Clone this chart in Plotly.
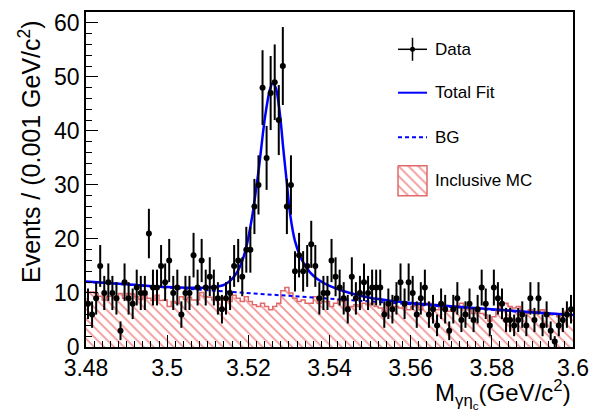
import numpy as np
import plotly.graph_objects as go

# ---------------- data ----------------
bin_low = 3.48
bin_width = 0.001

data_counts = [
    8, 6, 9, 15, 10, 12, 10, 9, 3, 12,
    9, 8, 11, 10, 10, 21, 11, 11, 15, 12,
    16, 10, 11, 6, 10, 10, 17, 11, 16, 11,
    13, 11, 9, 7, 9, 10, 15, 16, 13, 18,
    18, 26, 30, 48, 35, 47, 49, 42, 52, 26,
    30, 14, 17, 14, 15, 19, 15, 9, 10, 10,
    16, 13, 11, 9, 7, 13, 9, 10, 12, 10,
    11, 11, 11, 6, 8, 7, 9, 12, 8, 12,
    10, 6, 9, 11, 6, 7, 4, 8, 7, 3,
    7, 9, 5, 6, 8, 5, 7, 11, 8, 4,
    11, 9, 8, 5, 5, 4, 5, 6, 4, 9,
    5, 9, 4, 6, 3, 1, 4, 5, 6, 7,
]

mc_counts = [
    10.2, 10.2, 9.9, 9.4, 8.7, 9.4, 9.4, 8.7, 9.9, 9.0,
    9.9, 9.8, 9.3, 8.8, 9.8, 9.0, 8.6, 9.6, 8.6, 8.7,
    7.5, 8.4, 8.1, 9.3, 8.8, 9.2, 8.7, 8.7, 10.1, 9.3,
    9.2, 8.7, 9.3, 8.7, 9.0, 8.4, 9.6, 9.0, 8.4, 9.3,
    8.4, 7.8, 7.5, 8.1, 7.5, 6.9, 7.5, 8.1, 10.4, 11.0,
    10.0, 9.0, 8.4, 8.7, 8.1, 8.1, 9.3, 8.1, 8.4, 8.4,
    7.5, 8.1, 8.7, 8.4, 7.5, 7.5, 7.8, 7.5, 8.1, 7.8,
    8.1, 7.5, 7.2, 6.6, 7.8, 6.9, 7.5, 7.2, 7.5, 6.9,
    7.5, 8.1, 6.9, 7.8, 8.1, 7.5, 6.9, 7.8, 7.2, 6.6,
    6.9, 7.5, 8.1, 7.5, 6.9, 6.2, 6.6, 6.2, 5.9, 4.8,
    5.6, 6.6, 7.8, 8.1, 7.5, 7.2, 7.5, 6.6, 6.2, 6.9,
    6.2, 6.6, 6.9, 6.2, 5.9, 6.2, 5.6, 6.2, 6.6, 6.6,
]

fit_mass = [
    3.480, 3.490, 3.500, 3.506, 3.510, 3.5125, 3.5143, 3.5160, 3.5175,
    3.5192, 3.5208, 3.5225, 3.5241, 3.5253, 3.5260, 3.5268, 3.5278,
    3.5286, 3.5295, 3.5303, 3.5315, 3.5332, 3.5352, 3.5370, 3.540,
    3.545, 3.550, 3.555, 3.560, 3.570, 3.580, 3.590, 3.600,
]
fit_total = [
    12.1, 11.6, 11.1, 10.95, 11.0, 11.2, 11.6, 12.6, 14.2,
    17.6, 23.5, 32.5, 42.5, 47.6, 48.8, 47.9, 43.0,
    36.8, 30.3, 24.6, 19.6, 16.1, 13.8, 12.6, 11.3,
    10.0, 9.1, 8.55, 8.15, 7.55, 7.0, 6.45, 5.9,
]

bg_mass = [3.48, 3.52, 3.56, 3.60]
bg_level = [12.05, 9.95, 7.9, 5.85]

x_tick_values = [3.48, 3.50, 3.52, 3.54, 3.56, 3.58, 3.60]
x_tick_labels = ["3.48", "3.5", "3.52", "3.54", "3.56", "3.58", "3.6"]
y_tick_values = [0, 10, 20, 30, 40, 50, 60]

legend_labels = ["Data", "Total Fit", "BG", "Inclusive MC"]

# ---------------- derived arrays ----------------
n_bins = len(data_counts)
centers = bin_low + bin_width * (np.arange(n_bins) + 0.5)
errors = np.sqrt(np.array(data_counts, dtype=float))
edges = bin_low + bin_width * np.arange(n_bins + 1)
mc_step = list(mc_counts) + [mc_counts[-1]]

FONT = "Liberation Sans, Arial, Helvetica, sans-serif"
RED = "#e62a2a"
RED_LINE = "#e06a6a"
BLUE = "#0000ff"

fig = go.Figure()

# Inclusive MC hatched histogram
fig.add_trace(go.Scatter(
    x=edges, y=mc_step, mode="lines", line=dict(shape="hv", color=RED_LINE, width=1.5),
    fill="tozeroy", fillcolor="white",
    fillpattern=dict(shape="\\", fgcolor=RED, bgcolor="white", size=7, solidity=0.25),
    showlegend=False, hoverinfo="skip",
))

# Background
fig.add_trace(go.Scatter(
    x=bg_mass, y=bg_level, mode="lines",
    line=dict(color=BLUE, width=2, dash="4px,3px"), showlegend=False,
))

# Total fit
fig.add_trace(go.Scatter(
    x=fit_mass, y=fit_total, mode="lines",
    line=dict(color=BLUE, width=2.5, shape="spline", smoothing=0.8), showlegend=False,
))

# Data
fig.add_trace(go.Scatter(
    x=centers, y=data_counts, mode="markers",
    marker=dict(color="black", size=6),
    error_y=dict(type="data", array=errors, color="black", thickness=2, width=0),
    showlegend=False,
))

# ---------------- hand-drawn legend on an overlay pixel axis ----------------
LX0, LX1, LXC = 398, 427, 412.5
rows_y = [49.3, 92.7, 137.3, 180.7]

fig.add_trace(go.Scatter(
    x=[LXC], y=[rows_y[0]], mode="markers", xaxis="x2", yaxis="y2",
    marker=dict(color="black", size=5),
    error_x=dict(type="constant", value=14.5, color="black", thickness=1.5, width=0),
    error_y=dict(type="constant", value=11.5, color="black", thickness=1.5, width=0),
    showlegend=False, hoverinfo="skip",
))
fig.add_trace(go.Scatter(
    x=[LX0, LX1], y=[rows_y[1], rows_y[1]], mode="lines", xaxis="x2", yaxis="y2",
    line=dict(color=BLUE, width=2), showlegend=False, hoverinfo="skip",
))
fig.add_trace(go.Scatter(
    x=[LX0, LX1], y=[rows_y[2], rows_y[2]], mode="lines", xaxis="x2", yaxis="y2",
    line=dict(color=BLUE, width=2, dash="4px,3px"), showlegend=False, hoverinfo="skip",
))
fig.add_trace(go.Scatter(
    x=[LX0, LX1, LX1, LX0, LX0], y=[165.7, 165.7, 195.7, 195.7, 165.7],
    mode="lines", xaxis="x2", yaxis="y2", fill="toself", fillcolor="white",
    fillpattern=dict(shape="\\", fgcolor=RED, bgcolor="white", size=7, solidity=0.25),
    line=dict(color=RED_LINE, width=1.5), showlegend=False, hoverinfo="skip",
))

annotations = []
for label, yy in zip(legend_labels, rows_y):
    annotations.append(dict(
        x=433, y=yy, xref="x2", yref="y2", text=label, showarrow=False,
        xanchor="left", yanchor="middle", font=dict(family=FONT, size=17, color="black"),
    ))

# Axis titles
annotations.append(dict(
    x=-0.115, y=0.585, xref="paper", yref="paper",
    text="Events / (0.001 GeV/c<sup>2</sup>)", textangle=-90, showarrow=False,
    xanchor="center", yanchor="middle", font=dict(family=FONT, size=25, color="black"),
))
annotations.append(dict(
    x=1.0, y=-0.14, xref="paper", yref="paper",
    text="M<sub>γη<sub>c</sub></sub>(GeV/c<sup>2</sup>)", showarrow=False,
    xanchor="right", yanchor="middle", font=dict(family=FONT, size=24, color="black"),
))

fig.update_layout(
    width=597, height=412,
    margin=dict(l=86, r=24, t=12, b=65, autoexpand=False),
    paper_bgcolor="white", plot_bgcolor="white",
    showlegend=False,
    annotations=annotations,
    xaxis=dict(
        range=[3.48, 3.60], tickvals=x_tick_values, ticktext=x_tick_labels,
        ticks="inside", ticklen=12, tickwidth=1, tickcolor="black",
        minor=dict(dtick=0.002, ticks="inside", ticklen=6, tickcolor="black", tickwidth=1),
        showline=True, linecolor="black", linewidth=1.5, mirror=True,
        showgrid=False, zeroline=False, automargin=False,
        tickfont=dict(family=FONT, size=23, color="black"),
    ),
    yaxis=dict(
        range=[0, 62], tickvals=y_tick_values,
        ticks="inside", ticklen=12, tickwidth=1, tickcolor="black",
        minor=dict(dtick=2, ticks="inside", ticklen=6, tickcolor="black", tickwidth=1),
        showline=True, linecolor="black", linewidth=1.5, mirror=True,
        showgrid=False, zeroline=False, automargin=False,
        tickfont=dict(family=FONT, size=23, color="black"),
    ),
    xaxis2=dict(range=[86, 573], overlaying="x", anchor="y2", visible=False, fixedrange=True),
    yaxis2=dict(range=[347, 12], overlaying="y", anchor="x2", visible=False, fixedrange=True),
)

fig.write_html(
    "out.html",
    config={"displayModeBar": False},
    post_script="document.body.style.margin='0px';document.body.style.padding='0px';",
)
